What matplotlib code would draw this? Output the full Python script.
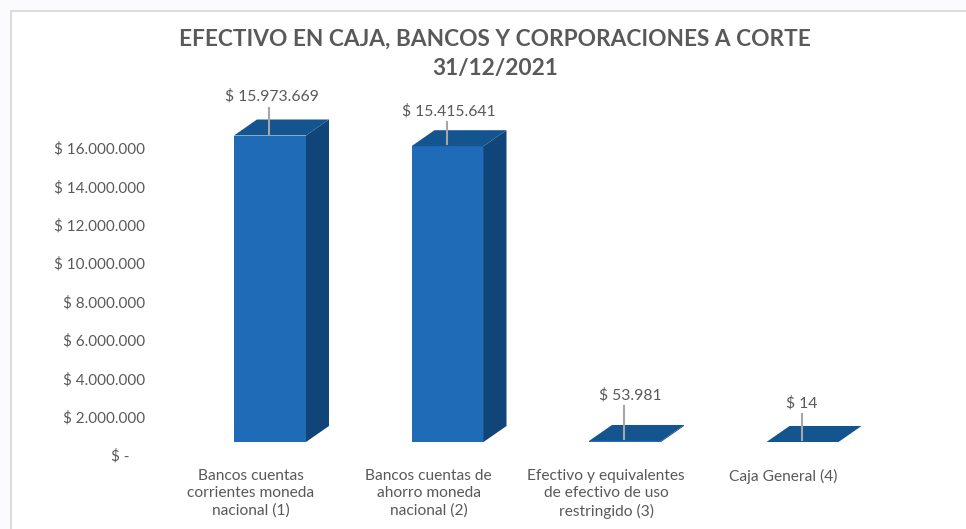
import matplotlib
matplotlib.use('Agg')
import matplotlib.pyplot as plt
from matplotlib.patches import Polygon, Rectangle

plt.rcParams['font.family'] = ['Lato', 'DejaVu Sans']

categorias = ['Bancos cuentas\ncorrientes moneda\nnacional (1)',
              'Bancos cuentas de\nahorro moneda\nnacional (2)',
              'Efectivo y equivalentes\nde efectivo de uso\nrestringido (3)',
              'Caja General (4)']
valores = [15973669, 15415641, 53981, 14]
etiquetas = ['$ 15.973.669', '$ 15.415.641', '$ 53.981', '$ 14']
ticks = [0, 2000000, 4000000, 6000000, 8000000, 10000000, 12000000, 14000000, 16000000]
tick_labels = ['$ -    ', '$ 2.000.000', '$ 4.000.000', '$ 6.000.000', '$ 8.000.000',
               '$ 10.000.000', '$ 12.000.000', '$ 14.000.000', '$ 16.000.000']
titulo = 'EFECTIVO EN CAJA, BANCOS Y CORPORACIONES A CORTE\n31/12/2021'

W, H = 966, 529
fig = plt.figure(figsize=(W / 100, H / 100), dpi=100, facecolor='#fbfbfd')

# marco blanco del grafico
fig.add_artist(Rectangle((11 / W, -0.01), 1, 1 - 11 / H + 0.01, transform=fig.transFigure,
                         facecolor='white', edgecolor='#dcdcdc', linewidth=1.5, zorder=-1))

# ejes: el 0 queda en y=455 px y 16M en y=148 px
ax = fig.add_axes([177 / W, (H - 455) / H, 773 / W, 370 / H])
ax.patch.set_alpha(0)
px_y = 16000000 / (455 - 148)
ax.set_ylim(0, 370 * px_y)
# una categoria cada 177.5 px, la primera centrada en 270 px
ax.set_xlim((177 - 270) / 177.5, (950 - 270) / 177.5)

ax.set_yticks(ticks)
ax.set_yticklabels(tick_labels, fontsize=11, color='#595959')
ax.set_xticks([])
ax.tick_params(axis='y', length=0, pad=23)
for s in ax.spines.values():
    s.set_visible(False)

px_x = 1 / 177.5
ancho = 36 * px_x
dx = 23 * px_x
dy = 16 * px_y
base = 13 * px_y   # la base 3D queda por encima del 0
subida = [39, 35, 46, 39]   # px entre el frente y el texto
corrimiento = [2, 1, 5, -1]   # px de la etiqueta respecto a la barra

for i, v in enumerate(valores):
    x0, x1 = i - ancho, i + ancho
    y0, y1 = base, base + v
    # frente, lado y tapa
    ax.add_patch(Polygon([(x0, y0), (x1, y0), (x1, y1), (x0, y1)], facecolor='#1f6bb8', edgecolor='none'))
    ax.add_patch(Polygon([(x1, y0), (x1 + dx, y0 + dy), (x1 + dx, y1 + dy), (x1, y1)],
                         facecolor='#10457a', edgecolor='none'))
    ax.add_patch(Polygon([(x0, y1), (x1, y1), (x1 + dx, y1 + dy), (x0 + dx, y1 + dy)],
                         facecolor='#14548f', edgecolor='none'))
    # linea guia y etiqueta
    yt = y1 + subida[i] * px_y
    ax.plot([i - 1 * px_x, i - 1 * px_x], [y1 + 2 * px_y, yt - 11 * px_y], color='#a6a6a6', lw=1.5, zorder=5)
    ax.text(i + corrimiento[i] * px_x, yt, etiquetas[i], ha='center', va='center', fontsize=11.3, color='#595959')
    ax.text(i - 19 * px_x, -14 * px_y, categorias[i], ha='center', va='top', fontsize=11.2,
            color='#595959', linespacing=1.28, clip_on=False)

fig.text(495 / W, 1 - 54 / H, titulo, ha='center', va='center', fontsize=16.25, fontweight='bold',
         color='#595959', linespacing=1.45)

fig.savefig('out.png', dpi=100, facecolor=fig.get_facecolor())
